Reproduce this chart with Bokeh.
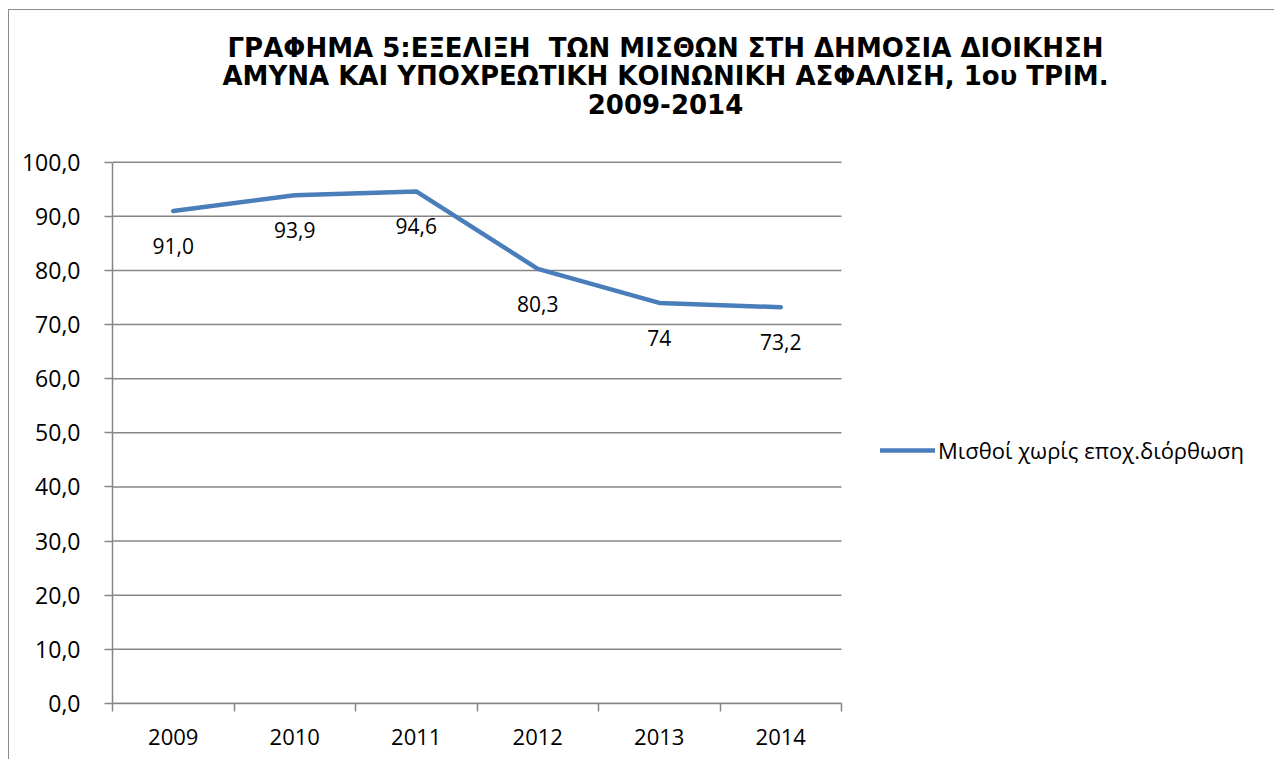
from bokeh.plotting import figure
from bokeh.models import (FixedTicker, Label, Legend, LegendItem, ColumnDataSource,
                          LabelSet)
from bokeh.core.properties import value
from bokeh.embed import file_html
from bokeh.resources import INLINE

# ---- data ----
years = ["2009", "2010", "2011", "2012", "2013", "2014"]
salaries = [91.0, 93.9, 94.6, 80.3, 74.0, 73.2]
value_labels = ["91,0", "93,9", "94,6", "80,3", "74", "73,2"]
series_name = "Μισθοί χωρίς εποχ.διόρθωση"
title_lines = [
    "ΓΡΑΦΗΜΑ 5:ΕΞΕΛΙΞΗ\u00a0 ΤΩΝ ΜΙΣΘΩΝ ΣΤΗ ΔΗΜΟΣΙΑ ΔΙΟΙΚΗΣΗ",
    "ΑΜΥΝΑ ΚΑΙ ΥΠΟΧΡΕΩΤΙΚΗ ΚΟΙΝΩΝΙΚΗ ΑΣΦΑΛΙΣΗ, 1ου ΤΡΙΜ.",
    "2009-2014",
]
y_ticks = [0, 10, 20, 30, 40, 50, 60, 70, 80, 90, 100]
y_max = 100

FONT = "Open Sans"
GRAY = "#868686"
BLUE = "#4A7EBB"

n = len(years)
xpos = [i + 0.5 for i in range(n)]
src = ColumnDataSource(dict(x=xpos, y=salaries, lab=value_labels))
grid_src = ColumnDataSource(dict(x0=[0] * len(y_ticks), x1=[n] * len(y_ticks),
                                 y=y_ticks))

# canvas origin is at page (9, 10); the frame fills the canvas right of / above the axes
W, H = 1266, 750
FL, FB = 103, 693                 # frame left / bottom in canvas px
px_per_cat = 121.5
px_per_unit = 5.413
x_end = (W - FL) / px_per_cat
y_end = FB / px_per_unit

p = figure(width=W, height=H, output_backend="svg", toolbar_location=None,
           x_range=(0, x_end), y_range=(0, y_end),
           min_border_left=FL, min_border_right=0,
           min_border_top=0, min_border_bottom=H - FB)
p.title = None
p.outline_line_color = None
p.background_fill_color = "white"
p.border_fill_color = "white"
p.styles = {"border-top": "1px solid #8c8c8c", "border-left": "1px solid #8c8c8c",
            "margin-left": "8px", "margin-top": "9px"}

# horizontal gridlines (limited to the plot area)
p.segment(x0="x0", x1="x1", y0="y", y1="y", source=grid_src,
          line_color=GRAY, line_width=1.5)

r = p.line("x", "y", source=src, line_color=BLUE, line_width=4.5,
           line_cap="round", line_join="round")

labels = LabelSet(x="x", y="y", text="lab", source=src, y_offset=-35,
                  text_align="center", text_baseline="middle",
                  text_font=value(FONT), text_font_size="21px", text_color="black")
p.add_layout(labels)

# x axis
p.xaxis.bounds = (0, n)
p.xaxis.ticker = FixedTicker(ticks=xpos, minor_ticks=list(range(n + 1)))
p.xaxis.major_label_overrides = {x: y for x, y in zip(xpos, years)}
p.xaxis.major_tick_out = 0
p.xaxis.major_tick_in = 0
p.xaxis.minor_tick_out = 8
p.xaxis.minor_tick_in = 0
p.xaxis.minor_tick_line_color = GRAY
p.xaxis.axis_line_color = GRAY
p.xaxis.axis_line_width = 1.5
p.xaxis.minor_tick_line_width = 1.5
p.xaxis.major_label_standoff = 17
p.xaxis.major_label_text_font = FONT
p.xaxis.major_label_text_font_size = "22px"
p.xaxis.major_label_text_color = "black"

# y axis
p.yaxis.bounds = (0, y_max)
p.yaxis.ticker = FixedTicker(ticks=y_ticks, minor_ticks=[])
p.yaxis.major_label_overrides = {t: f"{t},0" for t in y_ticks}
p.yaxis.major_tick_out = 8
p.yaxis.major_tick_in = 0
p.yaxis.major_tick_line_color = GRAY
p.yaxis.major_tick_line_width = 1.5
p.yaxis.axis_line_color = GRAY
p.yaxis.axis_line_width = 1.5
p.yaxis.major_label_standoff = 24
p.yaxis.major_label_text_font = FONT
p.yaxis.major_label_text_font_size = "23px"
p.yaxis.major_label_text_color = "black"

p.xgrid.grid_line_color = None
p.ygrid.grid_line_color = None

# title lines (screen coords relative to the frame)
title_page_y = [47, 75, 103]
for txt, yy in zip(title_lines, title_page_y):
    p.add_layout(Label(x=665 - 9 - FL, y=FB - (yy - 10), x_units="screen",
                       y_units="screen", text=txt, text_align="center",
                       text_baseline="middle", text_font="DejaVu Sans",
                       text_font_style="bold", text_font_size="26px",
                       text_color="black"))

legend = Legend(items=[LegendItem(label=series_name, renderers=[r])],
                location=(880 - 9 - FL, 238), orientation="vertical",
                glyph_width=55, glyph_height=24, label_standoff=3,
                padding=0, margin=0, border_line_color=None,
                background_fill_alpha=0,
                label_text_font=FONT, label_text_font_size="22px",
                label_text_color="black")
p.add_layout(legend, "center")

open("out.html", "w").write(file_html(p, INLINE))
